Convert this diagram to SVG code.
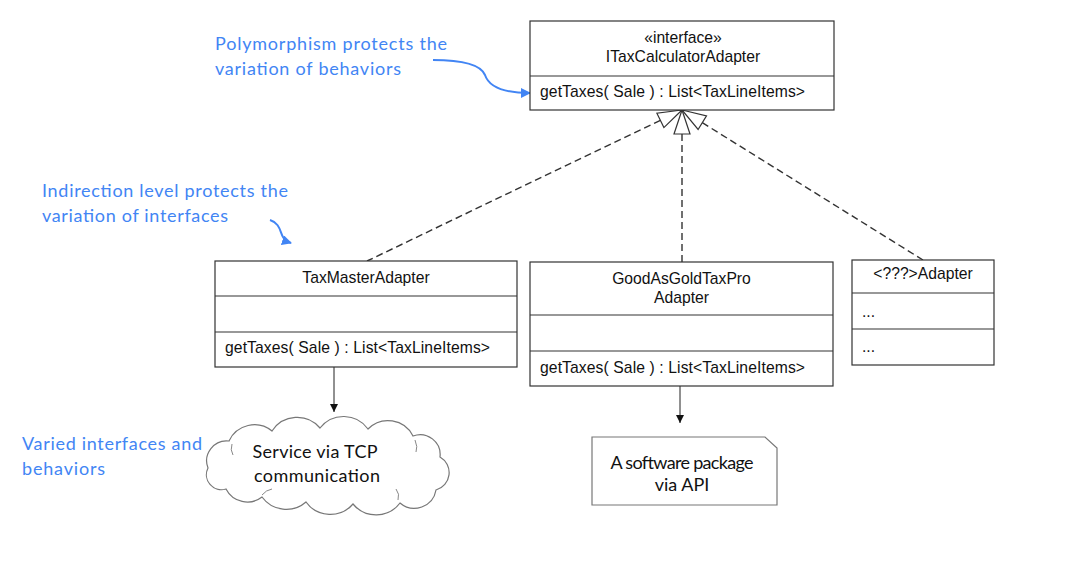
<svg xmlns="http://www.w3.org/2000/svg" width="1081" height="565" viewBox="0 0 1081 565">
<style>
.box{fill:#fff;stroke:#333;stroke-width:1.2}
.div{stroke:#333;stroke-width:1.2}
.uml{font-family:"Liberation Sans",Arial,sans-serif;font-size:15.7px;fill:#111}
.note{font-family:Lato,"Open Sans",sans-serif;font-size:18px;fill:#4285F4}
.cal{font-family:Lato,"Open Sans",sans-serif;font-size:18px;fill:#111}
.dash{fill:none;stroke:#333;stroke-width:1.4;stroke-dasharray:7 4}
.tri{fill:#fff;stroke:#333;stroke-width:1.2;stroke-linejoin:miter}
.dep{fill:none;stroke:#222;stroke-width:1}
.blue{fill:none;stroke:#4285F4;stroke-width:2}
</style>
<defs>
<marker id="blk" viewBox="0 0 10 10" refX="10" refY="5" markerWidth="8" markerHeight="8" markerUnits="userSpaceOnUse" orient="auto">
<path d="M0,0 L10,5 L0,10 Z" fill="#111"/>
</marker>
<marker id="bl" viewBox="0 0 10 10" refX="9" refY="5" markerWidth="5" markerHeight="5" orient="auto">
<path d="M0,0 L10,5 L0,10 Z" fill="#4285F4"/>
</marker>
</defs>
<rect width="1081" height="565" fill="#fff"/>

<g id="connectors">
<line class="dash" x1="660.4" y1="120.4" x2="367" y2="261"/>
<line class="dash" x1="682" y1="134" x2="682" y2="262"/>
<line class="dash" x1="702.3" y1="122.7" x2="923" y2="260"/>
<polygon class="tri" points="682,110 656.9,113.2 663.9,127.6"/>
<polygon class="tri" points="682,110 674,134 690,134"/>
<polygon class="tri" points="682,110 706.5,115.9 698.1,129.5"/>
<line class="dep" x1="334" y1="367" x2="334" y2="412" marker-end="url(#blk)"/>
<line class="dep" x1="680" y1="386" x2="680" y2="423" marker-end="url(#blk)"/>
<path class="blue" d="M433,60 C455,60 480,63 485,75 C490,90 510,93 530,93" marker-end="url(#bl)"/>
<path class="blue" d="M270,220 C280,223 280,232 283,237 C285,241 288,242 291,243" marker-end="url(#bl)"/>
</g>

<g id="ITaxCalculatorAdapter">
<rect class="box" x="530" y="21" width="304" height="89"/>
<line class="div" x1="530" y1="76" x2="834" y2="76"/>
<text class="uml" x="683" y="43" text-anchor="middle">«interface»</text>
<text class="uml" x="683" y="62" text-anchor="middle">ITaxCalculatorAdapter</text>
<text class="uml" x="540" y="97" textLength="265">getTaxes( Sale ) : List&lt;TaxLineItems&gt;</text>
</g>

<g id="TaxMasterAdapter">
<rect class="box" x="215" y="261" width="302" height="106"/>
<line class="div" x1="215" y1="296" x2="517" y2="296"/>
<line class="div" x1="215" y1="332" x2="517" y2="332"/>
<text class="uml" x="366" y="283" text-anchor="middle">TaxMasterAdapter</text>
<text class="uml" x="225" y="353" textLength="265">getTaxes( Sale ) : List&lt;TaxLineItems&gt;</text>
</g>

<g id="GoodAsGoldTaxProAdapter">
<rect class="box" x="530" y="262" width="303" height="124"/>
<line class="div" x1="530" y1="315" x2="833" y2="315"/>
<line class="div" x1="530" y1="351" x2="833" y2="351"/>
<text class="uml" x="681.5" y="284" text-anchor="middle">GoodAsGoldTaxPro</text>
<text class="uml" x="681.5" y="303" text-anchor="middle">Adapter</text>
<text class="uml" x="540" y="373" textLength="265">getTaxes( Sale ) : List&lt;TaxLineItems&gt;</text>
</g>

<g id="UnknownAdapter">
<rect class="box" x="852" y="260" width="142" height="105"/>
<line class="div" x1="852" y1="293" x2="994" y2="293"/>
<line class="div" x1="852" y1="329" x2="994" y2="329"/>
<text class="uml" x="923" y="279" text-anchor="middle">&lt;???&gt;Adapter</text>
<text class="uml" x="862" y="317">...</text>
<text class="uml" x="862" y="352">...</text>
</g>

<g id="TCPService">
<path d="M208,468 A20,20 0 0 1 229,441 A28,28 0 0 1 272,431 A30,30 0 0 1 320,428 A30,30 0 0 1 368,429 A28,28 0 0 1 413,436 A20,20 0 0 1 440,457 A18,18 0 0 1 436,490 A22,22 0 0 1 400,503 A30,30 0 0 1 353,504 A30,30 0 0 1 306,502 A30,30 0 0 1 262,497 A24,24 0 0 1 226,489 A15,15 0 0 1 208,468 Z" fill="#fff" stroke="#777" stroke-width="1.2"/>
<path d="M232,444 Q230,450 233,455 M415,440 Q418,447 416,452 M262,495 Q266,490 272,489 M398,500 Q400,494 396,489" fill="none" stroke="#888" stroke-width="1"/>
<text class="cal" x="315" y="458" text-anchor="middle" textLength="125">Service via TCP</text>
<text class="cal" x="317" y="482" text-anchor="middle" textLength="126">communication</text>
</g>

<g id="SoftwarePackage">
<path d="M592,437 H765 L777,448 V505 H592 Z" fill="#fff" stroke="#777" stroke-width="1.2"/>
<text class="cal" x="682" y="469" text-anchor="middle" font-size="16" textLength="143">A software package</text>
<text class="cal" x="682" y="491" text-anchor="middle" font-size="16">via API</text>
</g>

<g id="notes">
<text class="note" x="215" y="50" textLength="232">Polymorphism protects the</text>
<text class="note" x="215" y="75" textLength="186">variation of behaviors</text>
<text class="note" x="42" y="197" textLength="246">Indirection level protects the</text>
<text class="note" x="42" y="222" textLength="186">variation of interfaces</text>
<text class="note" x="22" y="450" textLength="180">Varied interfaces and</text>
<text class="note" x="22" y="475" textLength="83">behaviors</text>
</g>
</svg>
